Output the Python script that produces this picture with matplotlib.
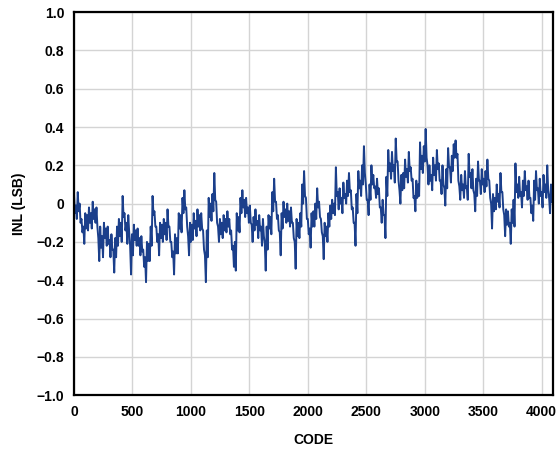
import numpy as np
import matplotlib
matplotlib.use("Agg")
import matplotlib.pyplot as plt

# INL band, per 16-code bin: upper and lower edge
step = 16
inl_hi = [
    0.05, -0.01, 0.06, 0.00, -0.08, -0.12, -0.05, -0.06, -0.02, -0.05, 0.01, -0.03, -0.02, -0.18, -0.12, -0.17,
    -0.10, -0.13, -0.12, -0.19, -0.16, -0.24, -0.18, -0.12, -0.08, -0.10, 0.04, -0.05, -0.10, -0.06, -0.22, -0.16,
    -0.11, -0.14, -0.13, -0.18, -0.17, -0.24, -0.28, -0.20, -0.21, -0.12, 0.04, -0.04, -0.12, -0.16, -0.10, -0.11,
    -0.08, -0.10, -0.03, -0.12, -0.20, -0.25, -0.16, -0.18, -0.05, -0.06, 0.03, 0.07, -0.02, -0.17, -0.10, -0.11,
    -0.05, -0.09, -0.03, -0.06, -0.05, -0.14, -0.27, -0.14, 0.03, 0.00, 0.05, 0.16, 0.01, -0.12, -0.08, -0.10,
    -0.06, -0.08, -0.04, -0.08, -0.14, -0.22, -0.20, -0.05, -0.07, 0.03, 0.07, 0.02, 0.03, -0.02, -0.01, -0.11,
    -0.07, -0.03, -0.09, -0.06, -0.12, -0.08, -0.21, -0.12, -0.06, -0.07, 0.06, 0.13, 0.01, -0.06, -0.15, -0.05,
    0.01, -0.03, 0.00, -0.04, -0.02, -0.10, -0.20, -0.08, -0.10, -0.05, 0.10, 0.17, 0.03, -0.08, -0.13, -0.05,
    -0.04, 0.00, 0.08, 0.01, -0.08, -0.17, -0.10, -0.12, -0.05, -0.01, 0.02, 0.00, 0.19, 0.06, 0.08, 0.03,
    0.11, 0.05, 0.12, 0.16, 0.07, -0.02, -0.10, 0.05, 0.17, 0.12, 0.20, 0.30, 0.10, 0.02, 0.10, 0.20,
    0.15, 0.09, 0.13, 0.08, -0.02, 0.02, -0.06, 0.14, 0.28, 0.21, 0.27, 0.20, 0.34, 0.22, 0.07, 0.15,
    0.16, 0.23, 0.18, 0.27, 0.19, 0.13, 0.04, 0.12, 0.10, 0.32, 0.25, 0.30, 0.39, 0.20, 0.20, 0.15,
    0.24, 0.20, 0.28, 0.21, 0.12, 0.20, 0.08, 0.18, 0.29, 0.19, 0.25, 0.31, 0.33, 0.26, 0.09, 0.15,
    0.10, 0.17, 0.09, 0.26, 0.16, 0.18, 0.05, 0.13, 0.22, 0.12, 0.18, 0.13, 0.17, 0.23, 0.12, 0.00,
    0.05, 0.03, 0.10, 0.05, 0.16, 0.06, -0.06, -0.03, -0.04, -0.10, -0.03, 0.02, 0.21, 0.10, 0.14, 0.06,
    0.12, 0.17, 0.09, 0.12, 0.03, -0.01, 0.12, 0.17, 0.08, 0.13, 0.06, 0.15, 0.10, 0.20, 0.03, 0.10,
]
inl_lo = [
    -0.05, -0.08, -0.04, -0.10, -0.15, -0.21, -0.13, -0.14, -0.10, -0.13, -0.08, -0.10, -0.12, -0.30, -0.23, -0.28,
    -0.18, -0.22, -0.21, -0.28, -0.24, -0.36, -0.28, -0.22, -0.17, -0.20, -0.07, -0.14, -0.21, -0.15, -0.37, -0.27,
    -0.19, -0.22, -0.22, -0.27, -0.25, -0.33, -0.41, -0.30, -0.30, -0.22, -0.06, -0.12, -0.20, -0.27, -0.18, -0.20,
    -0.16, -0.19, -0.12, -0.20, -0.28, -0.37, -0.26, -0.26, -0.13, -0.15, -0.05, -0.03, -0.12, -0.27, -0.20, -0.19,
    -0.13, -0.17, -0.12, -0.14, -0.13, -0.24, -0.41, -0.28, -0.07, -0.09, -0.04, 0.02, -0.10, -0.20, -0.16, -0.18,
    -0.14, -0.15, -0.12, -0.16, -0.24, -0.33, -0.35, -0.14, -0.15, -0.05, -0.02, -0.07, -0.05, -0.10, -0.10, -0.20,
    -0.14, -0.11, -0.18, -0.14, -0.22, -0.17, -0.35, -0.24, -0.13, -0.16, -0.04, 0.01, -0.08, -0.14, -0.27, -0.13,
    -0.07, -0.10, -0.09, -0.12, -0.10, -0.18, -0.34, -0.17, -0.18, -0.12, 0.00, 0.04, -0.08, -0.16, -0.23, -0.12,
    -0.12, -0.08, -0.02, -0.07, -0.15, -0.29, -0.17, -0.20, -0.12, -0.08, -0.05, -0.06, 0.04, -0.03, 0.00, -0.05,
    0.03, 0.00, 0.04, 0.06, -0.03, -0.10, -0.22, -0.05, 0.08, 0.04, 0.10, 0.16, 0.02, -0.06, 0.02, 0.10,
    0.08, 0.03, 0.05, -0.02, -0.10, -0.06, -0.18, 0.04, 0.17, 0.13, 0.17, 0.11, 0.22, 0.12, 0.00, 0.07,
    0.08, 0.14, 0.11, 0.17, 0.12, 0.03, -0.04, 0.03, 0.04, 0.18, 0.16, 0.22, 0.24, 0.10, 0.12, 0.07,
    0.15, 0.12, 0.18, 0.12, 0.05, 0.10, -0.01, 0.08, 0.19, 0.11, 0.17, 0.24, 0.24, 0.12, 0.02, 0.07,
    0.03, 0.08, 0.02, 0.14, 0.08, 0.07, -0.04, 0.04, 0.12, 0.05, 0.10, 0.06, 0.09, 0.13, 0.03, -0.13,
    -0.04, -0.03, 0.01, -0.02, 0.06, -0.03, -0.17, -0.11, -0.12, -0.21, -0.10, -0.12, 0.06, 0.03, 0.04, -0.02,
    0.04, 0.07, 0.02, 0.03, -0.05, -0.09, 0.02, 0.07, 0.00, 0.04, -0.02, 0.06, 0.03, 0.07, -0.05, 0.01,
]

x_ticks = [0, 500, 1000, 1500, 2000, 2500, 3000, 3500, 4000]
y_ticks = [-1.0, -0.8, -0.6, -0.4, -0.2, 0, 0.2, 0.4, 0.6, 0.8, 1.0]
y_labels = ["\u22121.0", "\u22120.8", "\u22120.6", "\u22120.4", "\u22120.2", "0",
            "0.2", "0.4", "0.6", "0.8", "1.0"]

# upper edge at the start of each bin, lower edge half a bin later
n = len(inl_hi)
codes = np.empty(2 * n)
codes[0::2] = np.arange(n) * step
codes[1::2] = np.arange(n) * step + step // 2
inl = np.empty(2 * n)
inl[0::2] = inl_hi
inl[1::2] = inl_lo

plt.rcParams['font.family'] = ['Liberation Sans', 'DejaVu Sans']
plt.rcParams['font.weight'] = 'bold'

fig = plt.figure(figsize=(5.59, 4.5), dpi=100)
ax = fig.add_axes([0.1324, 0.122, 0.8566, 0.851])

ax.plot(codes, inl, color='#1b3f8b', linewidth=1.4)

ax.set_xlim(0, 4096)
ax.set_ylim(-1.0, 1.0)
ax.set_xticks(x_ticks)
ax.set_yticks(y_ticks)
ax.set_yticklabels(y_labels)
ax.tick_params(length=0, pad=7, labelsize=10)
for lab in ax.get_xticklabels() + ax.get_yticklabels():
    lab.set_fontweight('bold')
ax.grid(True, color='#d4d4d4', linewidth=1.0)
ax.set_axisbelow(True)
for s in ax.spines.values():
    s.set_linewidth(1.6)
    s.set_color('black')

ax.set_xlabel('CODE', fontsize=10, fontweight='bold', labelpad=10)
ax.set_ylabel('INL (LSB)', fontsize=10, fontweight='bold', labelpad=8)

fig.savefig('out.png', dpi=100)
